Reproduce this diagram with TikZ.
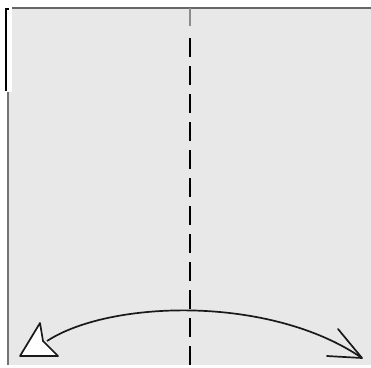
\documentclass[tikz,border=0pt]{standalone}
\begin{document}
\begin{tikzpicture}[x=1pt,y=-1pt,
  paper/.style={fill=black!9,draw=none},
  foldline/.style={line width=2.8pt,black,dash pattern=on 19pt off 9pt},
  arcline/.style={line width=1.7pt,black!90},
  headline/.style={line width=1.7pt,black!90,line cap=round,line join=round}]
\useasboundingbox (0,0) rectangle (371,367);
% paper
\fill[paper] (12,9) rectangle (371,92);
\fill[paper] (9,92) rectangle (371,365);
% edges
\draw[line width=2pt,black!60] (12,8) -- (371,8);
\draw[line width=1.6pt,black] (9,9) -- (6,9) -- (6,91);
\draw[line width=2pt,black!55] (7.5,92) -- (7.5,365);
% valley fold line
\draw[line width=1.5pt,black!45] (190,8) -- (190,26);
\draw[foldline] (190,38) -- (190,367);
% fold-and-unfold arrow
\coordinate (L) at (47,341);
\coordinate (R) at (362,358);
\draw[arcline] (L) .. controls (110,300) and (270,295) .. (R);
\draw[headline,fill=white] (40,323) -- (43,341) -- (58,356) -- (20,356) -- cycle;
\draw[headline] (338,329) -- (R) -- (327,356);
\end{tikzpicture}
\end{document}
